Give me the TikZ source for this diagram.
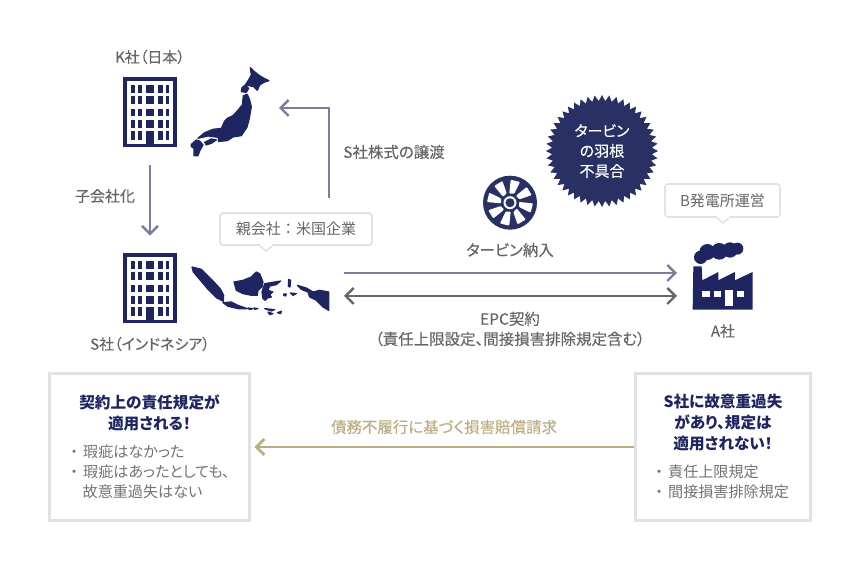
\documentclass[tikz,border=0pt]{standalone}
\usepackage{fontspec}
\setmainfont{Noto Sans CJK JP}[RawFeature={+palt}]
\newfontfamily\medfont{Noto Sans CJK JP}[FakeBold=0.3,RawFeature={+palt}]
\newfontfamily\plainfont{Noto Sans CJK JP}
\usepackage{xcolor}
\usetikzlibrary{arrows.meta,calc,positioning,shapes.geometric}
\definecolor{navy}{HTML}{1E2560}
\definecolor{navyb}{HTML}{283064}
\definecolor{textgray}{HTML}{666666}
\definecolor{listgray}{HTML}{737373}
\definecolor{boxgray}{HTML}{E2E2E2}
\definecolor{arrowblue}{HTML}{7B7D9E}
\definecolor{arrowgray}{HTML}{666666}
\definecolor{arrowtan}{HTML}{BCAE82}
\tikzset{
  lbl/.style={font=\fontsize{8.54}{11.4}\selectfont\medfont,text=textgray,inner sep=0pt,align=center},
  lblb/.style={lbl,font=\fontsize{8.8}{11.4}\selectfont\medfont},
  bubble/.style={draw=boxgray,line width=0.9pt,fill=white,rounded corners=1.6pt,inner sep=0pt,
    font=\fontsize{8.54}{11.4}\selectfont\plainfont,text=textgray},
  bubtail/.style={draw=boxgray,line width=0.9pt,fill=white},
  infobox/.style={draw=boxgray,line width=1.7pt,fill=white,inner sep=0pt},
  boxhead/.style={font=\fontsize{8.9}{11.95}\selectfont\bfseries,text=navy,inner sep=0pt,align=center},
  boxlist/.style={font=\fontsize{8.6}{11.4}\selectfont,text=listgray,inner sep=0pt,align=left,anchor=north west},
  bldg/.style={fill=navy,minimum width=1.08cm,minimum height=1.4cm,inner sep=0pt},
  land/.style={fill=navy,draw=navy,line width=0.7pt,line join=round},
  flow/.style={line width=1.4pt,line join=miter,-{Straight Barb[length=1.6mm,width=3.2mm]}}
}
\begin{document}
\begin{tikzpicture}[x=0.02cm,y=-0.02cm]
\useasboundingbox (0,0) rectangle (860,570);
% buildings
\foreach \by/\bname in {77/kbldg,253/sbldg}{
  \node[bldg] (\bname) at (150,\by+35) {};
  \begin{scope}[shift={(123,\by)}]
  \fill[white] (3.7,4) rectangle (50.3,66.7);
  \foreach \wa/\wb in {7.7/12.3,15.3/19.3,23.3/31,35.3/39.7,42.7/46.3}{
    \foreach \ra/\rb in {7.7/15.7,19.3/26.7,31.7/39.3,43.3/50.7,54/62.7}{
      \fill[navy] (\wa,\ra) rectangle (\wb,\rb);
    }
  }
  \fill[navy] (23.3,54) rectangle (31,67);
  \end{scope}
}
% japan
\begin{scope}[shift={(188,65)},scale=0.3333]
\fill[land] (187,8)--(197,18)--(212,30)--(228,40)--(243,47)--(228,52)--(215,60)--(208,76)--(197,65)--(183,62)--(172,60)--(180,48)--(190,30)--cycle;
\fill[land] (162,68)--(172,60)--(182,70)--(175,82)--(160,80)--cycle;
\fill[land] (166,92)--(178,88)--(185,105)--(190,125)--(184,160)--(177,187)--(160,212)--(135,216)--(118,227)--(105,228)--(92,230)--(90,217)--(60,213)--(30,220)--(50,203)--(75,193)--(100,190)--(110,168)--(118,160)--(135,152)--(148,138)--(163,120)--cycle;
\fill[land] (10,238)--(25,225)--(35,228)--(45,240)--(35,258)--(30,272)--(18,272)--(18,250)--(10,245)--cycle;
\fill[land] (50,232)--(70,222)--(85,225)--(70,235)--(55,240)--cycle;
\end{scope}
% indonesia
\begin{scope}[shift={(188,262)},scale=0.3333]
\fill[land] (12,15)--(40,22)--(58,40)--(78,60)--(98,82)--(107,100)--(106,118)--(85,107)--(60,82)--(33,50)--(16,30)--cycle;
\fill[land] (105,122)--(130,120)--(150,130)--(178,140)--(150,140)--(120,133)--cycle;
\fill[land] (138,60)--(165,55)--(190,45)--(205,30)--(215,35)--(225,60)--(222,75)--(210,85)--(208,100)--(190,100)--(165,95)--(145,85)--cycle;
\fill[land] (180,138)--(195,140)--(185,143)--cycle;
\fill[land] (198,138)--(210,140)--(200,142)--cycle;
\end{scope}
\begin{scope}[shift={(258,262)},scale=0.3333]
\fill[land] (20,65)--(50,60)--(68,57)--(55,68)--(35,72)--(30,85)--(45,90)--(35,97)--(40,105)--(28,108)--(22,115)--(15,110)--(12,90)--cycle;
\fill[land] (118,70)--(145,78)--(165,90)--(185,85)--(212,90)--(212,145)--(195,135)--(175,115)--(155,105)--(150,90)--(130,82)--cycle;
\fill[land] (92,52)--(98,55)--(96,75)--(91,73)--cycle;
\fill[land] (77,96)--(85,96)--(83,102)--(77,100)--cycle;
\fill[land] (97,93)--(115,95)--(105,100)--cycle;
\fill[land] (20,140)--(50,143)--(40,147)--cycle;
\fill[land] (30,150)--(45,155)--(35,158)--cycle;
\fill[land] (58,152)--(70,148)--(68,155)--cycle;
\end{scope}
% turbine
\node[circle,fill=navyb,minimum size=1.08cm,inner sep=0pt] (turb) at (510,202.7) {};
\foreach \ang in {0,45,...,315}{
  \begin{scope}[shift={(turb.center)},rotate=\ang]
  \fill[white,rounded corners=0.5pt] (-0.7,-9) -- (0.7,-23) -- (10,-20.7) -- (4.3,-9) -- cycle;
  \end{scope}
}
\fill[white] (turb.center) circle[radius=6.5];
\fill[navyb] (turb.center) circle[radius=4.5];
% burst
\node[star,star points=48,star point ratio=1.12,fill=navyb,minimum size=2.24cm,inner sep=0pt,
  text=white,align=center,font=\fontsize{8.54}{11.4}\selectfont\medfont] (burst) at (602,151) {タービン\\の羽根\\不具合};
% factory
\begin{scope}[shift={(690,238)},scale=0.3333]
\fill[navy] (8,215)--(10,85)--(35,85)--(37,127)--(85,102)--(85,127)--(135,102)--(135,127)--(188,102)--(188,215)--cycle;
\fill[white] (37,158) rectangle (60,178);
\fill[white] (72,158) rectangle (92,178);
\fill[white] (105,155) rectangle (128,203);
\fill[white] (140,158) rectangle (162,178);
\fill[navy] (32,58) circle[radius=20];
\fill[navy] (52,42) circle[radius=24];
\fill[navy] (88,40) circle[radius=25];
\fill[navy] (120,36) circle[radius=23];
\fill[navy] (142,32) circle[radius=18];
\end{scope}
% labels
\node[lbl] (klbl) at (150,57) {K社（日本）};
\node[lbl] (slbl) at (150,344) {S社（インドネシア）};
\node[lbl] (alabel) at (723,331) {A社};
\node[lbl] (sublbl) at (105,196) {子会社化};
\node[lblb] (xferlbl) at (394,152) {S社株式の譲渡};
\node[lblb] (delivlbl) at (510,250) {タービン納入};
\node[lblb] (epclbl) at (510,329) {EPC契約\\（責任上限設定、間接損害排除規定含む）};
\node[lblb,text=arrowtan] (claimlbl) at (444,427) {債務不履行に基づく損害賠償請求};
% bubbles
\draw[bubtail] (259,245)--(266,251)--(273,245);
\node[bubble,minimum width=3.04cm,minimum height=0.64cm] (parent) at (296,229) {親会社：米国企業};
\fill[white] (260,244) rectangle (272,246.5);
\draw[bubtail] (716,217)--(723,223)--(730,217);
\node[bubble,minimum width=2.3cm,minimum height=0.66cm] (plant) at (722.5,200.5) {B発電所運営};
\fill[white] (717,216) rectangle (729,218.5);
% boxes
\node[infobox,minimum width=4.02cm,minimum height=2.96cm] (lbox) at (149.5,447) {};
\node[infobox,minimum width=3.52cm,minimum height=2.96cm] (rbox) at (723,447) {};
\node[boxhead] (lhead) at (149.5,412.5) {契約上の責任規定が\\適用される！};
\node[boxhead] (rhead) at (723,422.5) {S社に故意重過失\\があり、規定は\\適用されない！};
\node[boxlist] (llist) at (70,444) {・\hspace{3pt}瑕疵はなかった\\・\hspace{3pt}瑕疵はあったとしても、\\\hspace{7pt}故意重過失はない};
\node[boxlist] (rlist) at (655,464) {・\hspace{3pt}責任上限規定\\・\hspace{3pt}間接損害排除規定};
% arrows
\coordinate (xferA) at (329,198);
\coordinate (xferB) at (279,108);
\coordinate (indoA) at (344,273);
\coordinate (factA) at (677,273);
\coordinate (indoB) at (344,296);
\coordinate (factB) at (677,296);
\draw[flow,draw=arrowblue,shorten <=0.36cm,shorten >=0.34cm] (kbldg)--(sbldg);
\draw[flow,draw=arrowblue] (xferA)|-(xferB);
\draw[flow,draw=arrowblue] (indoA)--(factA);
\draw[flow,draw=arrowgray,{Straight Barb[length=1.6mm,width=3.2mm]}-{Straight Barb[length=1.6mm,width=3.2mm]}] (indoB)--(factB);
\draw[flow,draw=arrowtan,line width=1.6pt,shorten >=0.06cm] (rbox)--(lbox);
\end{tikzpicture}
\end{document}
